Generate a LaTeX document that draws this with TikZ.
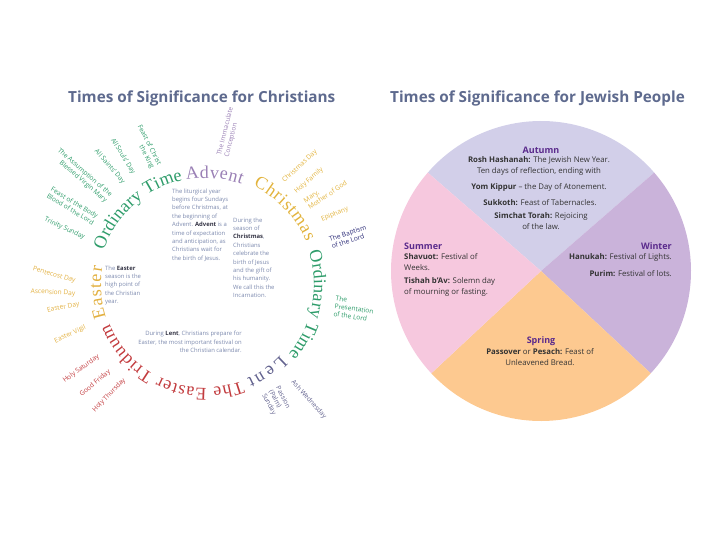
\documentclass[tikz,border=0pt]{standalone}
\usepackage{fontspec}
\setmainfont{Open Sans}
\newfontfamily\seasonserif{Liberation Serif}
\usepackage{tikz}
\usetikzlibrary{decorations.text}

\definecolor{titlecol}{HTML}{5E6A8E}
\definecolor{greencol}{HTML}{2E9C6A}
\definecolor{adventcol}{HTML}{9A80B5}
\definecolor{christcol}{HTML}{E2B33C}
\definecolor{navycol}{HTML}{2C2C78}
\definecolor{lentcol}{HTML}{62628E}
\definecolor{redcol}{HTML}{C23B3E}
\definecolor{eastercol}{HTML}{E2B040}
\definecolor{desccol}{HTML}{7D8AAE}
\definecolor{keycol}{HTML}{333344}
\definecolor{jheadcol}{HTML}{5A2A8C}
\definecolor{jbody}{HTML}{333333}
\definecolor{autumncol}{HTML}{D2CFE9}
\definecolor{summercol}{HTML}{F6C8DE}
\definecolor{wintercol}{HTML}{CAB3DA}
\definecolor{springcol}{HTML}{FDC990}

\newcommand\seasonfont{\seasonserif\fontsize{18}{18}\selectfont}
\newcommand\keyword[1]{\textcolor{keycol}{\textbf{#1}}}

\tikzset{
  season/.style 2 args={decorate, decoration={text along path, text align=fit to path, text={|\seasonfont\color{#1}|#2}}},
  feast/.style={text=#1, font=\fontsize{6.6}{7.8}\selectfont, inner sep=0.5pt},
  desc/.style={text=desccol, font=\fontsize{5.9}{8.4}\selectfont, inner sep=0pt},
  jtext/.style={text=jbody, font=\fontsize{7.8}{11}\selectfont, inner sep=0pt},
  jhead/.style={text=jheadcol, font=\fontsize{9}{10}\selectfont\bfseries, inner sep=0pt},
  heading/.style={text=titlecol, font=\fontsize{15.3}{17}\selectfont\bfseries, inner sep=0pt}
}

\begin{document}
\begin{tikzpicture}[x=1pt,y=-1pt]
  \useasboundingbox (0,0) rectangle (720,540);

  % titles
  \node[heading, anchor=west] (christtitle) at (68,98) {Times of Significance for Christians};
  \node[heading, anchor=west] (jewtitle) at (390,98) {Times of Significance for Jewish People};

  % the Christian year
  \coordinate (C) at (205,285);
  \path[season={greencol}{Ordinary Time}] ([shift={(199:107)}]C) arc[start angle=199, end angle=258, radius=107];
  \path[season={adventcol}{Advent}] ([shift={(260:107)}]C) arc[start angle=260, end angle=290, radius=107];
  \path[season={christcol}{Christmas}] ([shift={(296:110)}]C) arc[start angle=296, end angle=337, radius=110];
  \path[season={greencol}{Ordinary Time}] ([shift={(-18:109)}]C) arc[start angle=-18, end angle=40, radius=109];
  \path[season={lentcol}{Lent}] ([shift={(43:103)}]C) arc[start angle=43, end angle=66, radius=103];
  \path[season={redcol}{The Easter Triduum}] ([shift={(69:103)}]C) arc[start angle=69, end angle=158, radius=103];
  \path[season={eastercol}{Easter}] ([shift={(162:104)}]C) arc[start angle=162, end angle=190, radius=104];

  % ordinary time feasts
  \node[feast=greencol, anchor=east, rotate=-63, align=right] (christking) at (156,167) {Feast of Christ\\the King};
  \node[feast=greencol, anchor=east, rotate=-58] (soulsday) at (134,174) {All Souls' Day};
  \node[feast=greencol, anchor=east, rotate=-49] (saintsday) at (124,183) {All Saints' Day};
  \node[feast=greencol, anchor=east, rotate=-41, align=right] (assumption) at (109,199) {The Assumption of the\\Blessed Virgin Mary};
  \node[feast=greencol, anchor=east, rotate=-31, align=right] (corpus) at (96,220) {Feast of the Body\\Blood of the Lord};
  \node[feast=greencol, anchor=east, rotate=-25] (trinity) at (85,238) {Trinity Sunday};

  % advent and christmas feasts
  \node[feast=adventcol, anchor=west, rotate=76, align=left] (immaculate) at (223,157) {The Immaculate\\Conception};
  \node[feast=christcol, anchor=west, rotate=43] (christmasday) at (283,182) {Christmas Day};
  \node[feast=christcol, anchor=west, rotate=41] (holyfamily) at (295,193) {Holy Family};
  \node[feast=christcol, anchor=west, rotate=34, align=left] (marygod) at (306,205) {Mary,\\Mother of God};
  \node[feast=christcol, anchor=west, rotate=23] (epiphany) at (321,220) {Epiphany};
  \node[feast=navycol, anchor=west, rotate=18, align=left] (baptism) at (330,243) {The Baptism\\of the Lord};
  \node[feast=greencol, anchor=west, rotate=-8, align=left] (presentation) at (334,306) {The\\Presentation\\of the Lord};

  % lent and the triduum
  \node[feast=lentcol, anchor=west, rotate=-48] (ashwed) at (292,381) {Ash Wednesday};
  \node[feast=lentcol, anchor=west, rotate=-62, align=left] (palm) at (270,390) {Passion\\(Palm)\\Sunday};
  \node[feast=redcol, anchor=east, rotate=36] (holysat) at (99,356) {Holy Saturday};
  \node[feast=redcol, anchor=east, rotate=40] (goodfri) at (110,371) {Good Friday};
  \node[feast=redcol, anchor=east, rotate=46] (holythu) at (125,379) {Holy Thursday};

  % easter feasts
  \node[feast=eastercol, anchor=east, rotate=-15] (pentecost) at (76,281) {Pentecost Day};
  \node[feast=eastercol, anchor=east, rotate=-3] (ascension) at (76,294) {Ascension Day};
  \node[feast=eastercol, anchor=east, rotate=12] (easterday) at (80,304) {Easter Day};
  \node[feast=eastercol, anchor=east, rotate=25] (vigil) at (86,327) {Easter Vigil};

  % notes
  \node[desc, anchor=north west, align=left] (adventnote) at (172,188.5) {The liturgical year\\begins four Sundays\\before Christmas, at\\the beginning of\\Advent. \keyword{Advent} is a\\time of expectation\\and anticipation, as\\Christians wait for\\the birth of Jesus.};
  \node[desc, anchor=north west, align=left] (christnote) at (233,217.5) {During the\\season of\\\keyword{Christmas},\\Christians\\celebrate the\\birth of Jesus\\and the gift of\\his humanity.\\We call this the\\Incarnation.};
  \node[desc, anchor=north west, align=left] (easternote) at (105,265.5) {The \keyword{Easter}\\season is the\\high point of\\the Christian\\year.};
  \node[desc, anchor=north east, align=right] (lentnote) at (242,331) {During \keyword{Lent}, Christians prepare for\\Easter, the most important festival on\\the Christian calendar.};

  % the Jewish year
  \coordinate (J) at (541,271);
  \fill[autumncol] (J) -- ([shift={(221:150)}]J) arc[start angle=221, end angle=319, radius=150] -- cycle;
  \fill[wintercol] (J) -- ([shift={(319:150)}]J) arc[start angle=319, end angle=403, radius=150] -- cycle;
  \fill[springcol] (J) -- ([shift={(43:150)}]J) arc[start angle=43, end angle=137, radius=150] -- cycle;
  \fill[summercol] (J) -- ([shift={(137:150)}]J) arc[start angle=137, end angle=221, radius=150] -- cycle;

  \node[jhead] (autumn) at (541,150) {Autumn};
  \node[jtext, align=center] (rosh) at (539,166) {\textbf{Rosh Hashanah:} The Jewish New Year.\\Ten days of reflection, ending with};
  \node[jtext] (yom) at (539,187) {\textbf{Yom Kippur} -- the Day of Atonement.};
  \node[jtext] (sukkoth) at (540,202.5) {\textbf{Sukkoth:} Feast of Tabernacles.};
  \node[jtext, align=center] (simchat) at (541,221.5) {\textbf{Simchat Torah:} Rejoicing\\of the law.};

  \node[jhead, anchor=west] (summer) at (404,246.5) {Summer};
  \node[jtext, anchor=west, align=left] (shavuot) at (404,262) {\textbf{Shavuot:} Festival of\\Weeks.};
  \node[jtext, anchor=west, align=left] (tishah) at (404,287) {\textbf{Tishah b'Av:} Solemn day\\of mourning or fasting.};

  \node[jhead, anchor=east] (winter) at (672,246.5) {Winter};
  \node[jtext, anchor=east] (hanukah) at (672,257.5) {\textbf{Hanukah:} Festival of Lights.};
  \node[jtext, anchor=east] (purim) at (672,273.5) {\textbf{Purim:} Festival of lots.};

  \node[jhead] (spring) at (541,341.5) {Spring};
  \node[jtext, align=center] (passover) at (540,357.5) {\textbf{Passover} or \textbf{Pesach:} Feast of\\Unleavened Bread.};
\end{tikzpicture}
\end{document}
